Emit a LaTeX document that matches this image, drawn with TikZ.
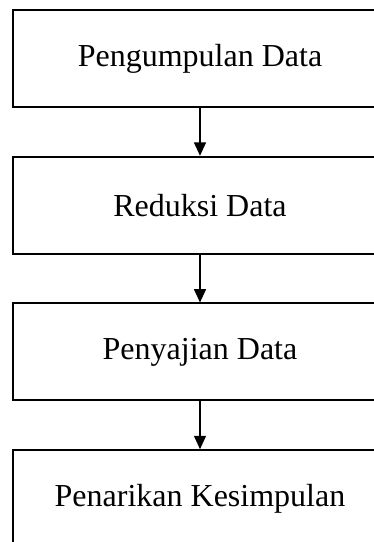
\documentclass[tikz,border=0pt]{standalone}
\usepackage{fontspec}
\setmainfont{Liberation Serif}
\usepackage{tikz}
\usetikzlibrary{arrows.meta}

\begin{document}
\begin{tikzpicture}[x=0.75pt,y=-0.75pt,
    stage/.style={draw, line width=1.4pt, fill=white, minimum width=374*0.75pt,
      minimum height=97*0.75pt, inner sep=0pt, font=\fontsize{24}{28}\selectfont},
    flow/.style={line width=0.9pt, -{Triangle[length=10pt,width=9pt]}}]
  \useasboundingbox (0,0) rectangle (374,542);
  \def\gap{146.7}

  \node[stage] (kumpul) at (200,58.5) {Pengumpulan Data};
  \node[stage] (reduksi) at (200,58.5+\gap) {Reduksi Data};
  \node[stage] (saji) at (200,58.5+2*\gap) {Penyajian Data};
  \node[stage] (tarik) at (200,58.5+3*\gap) {Penarikan Kesimpulan};

  \draw[flow] (kumpul) -- (reduksi);
  \draw[flow] (reduksi) -- (saji);
  \draw[flow] (saji) -- (tarik);
\end{tikzpicture}
\end{document}
